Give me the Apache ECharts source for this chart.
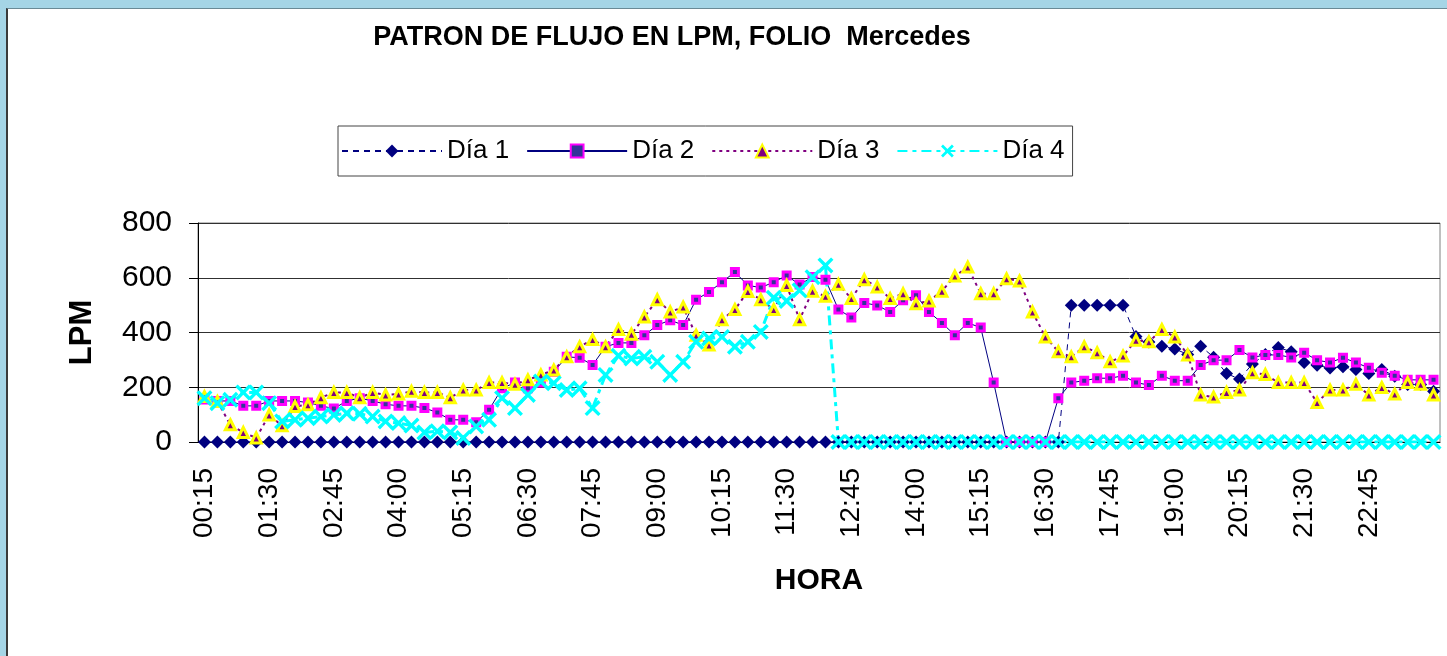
<!DOCTYPE html>
<html>
<head>
<meta charset="utf-8">
<script src="https://cdn.jsdelivr.net/npm/echarts@6/dist/echarts.min.js"></script>
<style>
    html, body {
        margin: 0;
        padding: 0;
        width: 1447px;
        height: 656px;
        overflow: hidden;
        background: #a5d5e6;
    }
    #sheet {
        position: absolute;
        left: 6px;
        top: 8px;
        width: 1441px;
        height: 648px;
        background: #ffffff;
        border-left: 2px solid #3a3a3a;
        border-top: 1px solid #6a8a96;
    }
    #chart {
        position: absolute;
        left: 0;
        top: 0;
        width: 1447px;
        height: 656px;
    }
</style>
</head>
<body>
<div id="sheet"></div>
<div id="chart"></div>
<script>
var horas = ["00:15", "00:30", "00:45", "01:00", "01:15", "01:30", "01:45", "02:00", "02:15", "02:30", "02:45", "03:00",
    "03:15", "03:30", "03:45", "04:00", "04:15", "04:30", "04:45", "05:00", "05:15", "05:30", "05:45", "06:00",
    "06:15", "06:30", "06:45", "07:00", "07:15", "07:30", "07:45", "08:00", "08:15", "08:30", "08:45", "09:00",
    "09:15", "09:30", "09:45", "10:00", "10:15", "10:30", "10:45", "11:00", "11:15", "11:30", "11:45", "12:00",
    "12:15", "12:30", "12:45", "13:00", "13:15", "13:30", "13:45", "14:00", "14:15", "14:30", "14:45", "15:00",
    "15:15", "15:30", "15:45", "16:00", "16:15", "16:30", "16:45", "17:00", "17:15", "17:30", "17:45", "18:00",
    "18:15", "18:30", "18:45", "19:00", "19:15", "19:30", "19:45", "20:00", "20:15", "20:30", "20:45", "21:00",
    "21:15", "21:30", "21:45", "22:00", "22:15", "22:30", "22:45", "23:00", "23:15", "23:30", "23:45", "24:00"];

var dia1 = [0, 0, 0, 0, 0, 0, 0, 0, 0, 0, 0, 0, 0, 0, 0, 0, 0, 0, 0, 0,
    0, 0, 0, 0, 0, 0, 0, 0, 0, 0, 0, 0, 0, 0, 0, 0, 0, 0, 0, 0,
    0, 0, 0, 0, 0, 0, 0, 0, 0, 0, 0, 0, 0, 0, 0, 0, 0, 0, 0, 0,
    0, 0, 0, 0, 0, 0, 0, 500, 500, 500, 500, 500, 385, 365, 350, 340, 320, 350, 310, 250,
    230, 285, 320, 345, 330, 290, 280, 270, 275, 265, 250, 265, 240, 210, 210, 185];

var dia2 = [155, 150, 150, 132, 132, 150, 150, 150, 144, 132, 122, 150, 160, 150, 138, 132, 132, 124, 108, 81,
    81, 72, 118, 196, 217, 196, 217, 257, 311, 308, 281, 348, 362, 362, 390, 427, 445, 427, 520, 548,
    584, 621, 572, 564, 584, 608, 575, 603, 593, 484, 455, 508, 499, 475, 518, 536, 475, 435, 390, 435,
    418, 217, 0, 0, 0, 0, 160, 217, 224, 233, 233, 242, 217, 208, 242, 224, 224, 281, 299, 299,
    336, 309, 318, 318, 309, 326, 299, 290, 308, 290, 271, 253, 242, 227, 227, 227];

var dia3 = [166, 148, 63, 35, 15, 99, 59, 130, 136, 162, 181, 181, 162, 181, 172, 175, 185, 181, 181, 162,
    190, 190, 217, 217, 211, 227, 245, 263, 311, 348, 374, 348, 411, 394, 457, 520, 475, 493, 390, 354,
    447, 484, 550, 520, 484, 572, 447, 551, 532, 576, 524, 593, 566, 524, 542, 505, 515, 551, 606, 639,
    542, 542, 596, 588, 475, 384, 330, 311, 348, 326, 293, 314, 372, 366, 411, 384, 318, 172, 164, 181,
    190, 253, 247, 217, 217, 217, 144, 190, 190, 211, 172, 199, 175, 217, 211, 172];

var dia4 = [160, 142, 154, 181, 181, 142, 75, 81, 87, 93, 99, 105, 103, 93, 75, 69, 60, 35, 39, 35,
    15, 57, 81, 160, 124, 172, 221, 215, 190, 196, 124, 245, 315, 305, 311, 293, 245, 293, 366, 378,
    384, 348, 366, 402, 527, 515, 554, 602, 645, 0, 0, 0, 0, 0, 0, 0, 0, 0, 0, 0,
    0, 0, 0, 0, 0, 0, 0, 0, 0, 0, 0, 0, 0, 0, 0, 0, 0, 0, 0, 0,
    0, 0, 0, 0, 0, 0, 0, 0, 0, 0, 0, 0, 0, 0, 0, 0];

var nombres = ["Día 1", "Día 2", "Día 3", "Día 4"];
var yTicks = [0, 200, 400, 600, 800];

// cruz gruesa para el dia 4 (no hay simbolo X en echarts)
var cruz = "path://M0,1.5 L1.5,0 L5,3.5 L8.5,0 L10,1.5 L6.5,5 L10,8.5 L8.5,10 L5,6.5 L1.5,10 L0,8.5 L3.5,5 Z";
var fuente = "'Liberation Sans', Arial, sans-serif";

var option = {
    animation: false,
    title: {
        text: "PATRON DE FLUJO EN LPM, FOLIO  Mercedes",
        left: 667,
        top: 19,
        textAlign: "center",
        textStyle: {
            fontFamily: fuente,
            fontSize: 27,
            fontWeight: "bold",
            color: "#000"
        }
    },
    legend: {
        data: nombres,
        left: 338,
        top: 126,
        padding: [12, 8, 12, 3],
        itemGap: 17,
        itemWidth: 100,
        itemHeight: 16,
        backgroundColor: "#fff",
        borderColor: "#444",
        borderWidth: 1,
        textStyle: {
            fontFamily: fuente,
            fontSize: 26,
            lineHeight: 26,
            color: "#000"
        }
    },
    grid: {
        left: 198,
        right: 7,
        top: 223,
        bottom: 214,
        show: true,
        borderColor: "#808080",
        borderWidth: 1
    },
    xAxis: {
        type: "category",
        data: horas,
        boundaryGap: true,
        name: "HORA",
        nameLocation: "middle",
        nameGap: 124,
        nameTextStyle: {
            fontFamily: fuente,
            fontSize: 30,
            fontWeight: "bold",
            color: "#000"
        },
        axisLine: {
            lineStyle: {
                color: "#000",
                width: 1
            }
        },
        axisTick: {
            interval: 0,
            length: 9,
            lineStyle: {
                color: "#000"
            }
        },
        axisLabel: {
            rotate: 90,
            margin: 26,
            fontFamily: fuente,
            fontSize: 28,
            color: "#000",
            interval: function(index) {
                return index % 5 === 0 && index < 95
            }
        },
        splitLine: {
            show: false
        }
    },
    yAxis: {
        type: "value",
        min: yTicks[0],
        max: yTicks[yTicks.length - 1],
        interval: 200,
        name: "LPM",
        nameLocation: "middle",
        nameGap: 100,
        nameTextStyle: {
            fontFamily: fuente,
            fontSize: 31,
            fontWeight: "bold",
            color: "#000"
        },
        axisLine: {
            show: true,
            lineStyle: {
                color: "#000",
                width: 1
            }
        },
        axisTick: {
            show: true,
            length: 9,
            lineStyle: {
                color: "#000"
            }
        },
        axisLabel: {
            margin: 26,
            fontFamily: fuente,
            fontSize: 30,
            color: "#000"
        },
        splitLine: {
            lineStyle: {
                color: "#303030",
                width: 1
            }
        }
    },
    series: [{
        name: "Día 1",
        type: "line",
        data: dia1,
        showAllSymbol: true,
        symbol: "diamond",
        symbolSize: 13,
        itemStyle: {
            color: "#000080"
        },
        lineStyle: {
            color: "#000080",
            width: 1,
            type: [6, 5]
        }
    },
    {
        name: "Día 2",
        type: "line",
        data: dia2,
        showAllSymbol: true,
        symbol: "rect",
        symbolSize: 7,
        itemStyle: {
            color: "#333399",
            borderColor: "#ff00ff",
            borderWidth: 3
        },
        lineStyle: {
            color: "#000080",
            width: 1,
            type: "solid"
        }
    },
    {
        name: "Día 3",
        type: "line",
        data: dia3,
        showAllSymbol: true,
        symbol: "triangle",
        symbolSize: 10,
        itemStyle: {
            color: "#800080",
            borderColor: "#ffff00",
            borderWidth: 3
        },
        lineStyle: {
            color: "#800080",
            width: 2,
            type: [3, 4]
        }
    },
    {
        name: "Día 4",
        type: "line",
        data: dia4,
        showAllSymbol: true,
        symbol: cruz,
        symbolSize: 16,
        itemStyle: {
            color: "#00ffff",
            borderWidth: 0
        },
        lineStyle: {
            color: "#00ffff",
            width: 3,
            type: [10, 5, 4, 5]
        }
    }]
};

var grafica = echarts.init(document.getElementById("chart"));
grafica.setOption(option);
</script>
</body>
</html>
